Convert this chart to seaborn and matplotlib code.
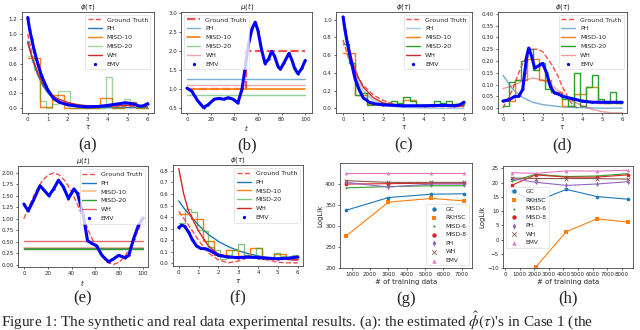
import numpy as np
import matplotlib as mpl
import matplotlib.pyplot as plt
import seaborn as sns

mpl.use('agg')

# ---- (a) phi, case 1 ----
a_tau = [0, 0.25, 0.5, 0.75, 1.0, 1.25, 1.5, 2.0, 2.5, 3.0, 4.0, 5.0, 6.0]
a_gt = [1.0, 0.68, 0.46, 0.32, 0.22, 0.15, 0.11, 0.06, 0.035, 0.02, 0.02, 0.02, 0.02]
a_ph = [0.9, 0.64, 0.45, 0.31, 0.21, 0.14, 0.09, 0.045, 0.025, 0.015, 0.01, 0.01, 0.01]
a_wh = [0.88, 0.66, 0.48, 0.34, 0.24, 0.17, 0.13, 0.08, 0.05, 0.035, 0.03, 0.04, 0.03]
a_m10 = [0.68, 0.02, 0.18, 0.01, 0.01, 0.01, 0.14, 0.01, 0.09, 0.01]
a_m20 = [0.70, 0.51, 0.10, 0.01, 0.06, 0.24, 0.24, 0.01, 0.01, 0.01,
         0.01, 0.01, 0.01, 0.42, 0.01, 0.01, 0.13, 0.07, 0.01, 0.01]
a_emv_t = [0, 0.1, 0.2, 0.3, 0.5, 0.7, 1.0, 1.3, 1.6, 2.0, 2.5, 3.0, 3.5, 4.0, 4.5, 4.9, 5.3, 5.6, 5.8, 6.0]
a_emv = [1.22, 1.05, 0.93, 0.80, 0.60, 0.43, 0.25, 0.13, 0.08, 0.05, 0.03, 0.02, 0.025, 0.04, 0.06,
         0.075, 0.06, 0.03, 0.035, 0.065]

# ---- (b) mu, case 1 ----
b_t_gt = [0, 50, 50, 100]
b_gt = [1.0, 1.0, 2.0, 2.0]
b_ph = 1.27
b_m10 = 1.0
b_m20 = 0.84
b_wh = 1.12
b_emv_t = [0, 4, 9, 14, 18, 23, 27, 31, 35, 39, 43, 46.5, 49, 52, 55, 57.7, 60, 63, 66, 69, 71.6, 74,
           77, 79, 82, 86.3, 89, 91, 93.9, 97, 100]
b_emv = [1.03, 0.95, 0.7, 0.52, 0.6, 0.74, 0.76, 0.74, 0.78, 0.74, 0.64, 1.0, 1.53, 2.19, 2.6, 2.77,
         2.55, 2.05, 1.68, 1.8, 2.0, 1.88, 1.6, 1.53, 1.7, 1.95, 1.75, 1.55, 1.41, 1.55, 1.76]

# ---- (c) phi, case 2 ----
c_tau = [0, 0.25, 0.5, 0.75, 1.0, 1.5, 2.0, 2.5, 3.0, 4.0, 5.0, 6.0]
c_gt = [0.77, 0.58, 0.45, 0.34, 0.26, 0.15, 0.09, 0.05, 0.03, 0.02, 0.02, 0.02]
c_ph = [0.95, 0.65, 0.45, 0.30, 0.20, 0.09, 0.04, 0.02, 0.01, 0.005, 0.0, 0.0]
c_wh = [1.02, 0.72, 0.50, 0.35, 0.24, 0.12, 0.06, 0.04, 0.03, 0.03, 0.03, 0.03]
c_m10 = [0.62, 0.15, 0.05, 0.06, 0.05, 0.09, 0.04, 0.04, 0.05, 0.04]
c_m20 = [0.72, 0.51, 0.15, 0.17, 0.04, 0.05, 0.06, 0.05, 0.08, 0.06,
         0.13, 0.08, 0.04, 0.04, 0.03, 0.08, 0.06, 0.08, 0.05, 0.05]
c_emv_t = [0, 0.1, 0.2, 0.4, 0.6, 0.8, 1.0, 1.3, 1.6, 2.0, 3.0, 4.0, 5.0, 5.5, 5.8, 6.0]
c_emv = [1.03, 0.88, 0.75, 0.53, 0.33, 0.21, 0.12, 0.07, 0.05, 0.04, 0.03, 0.03, 0.035, 0.03, 0.04, 0.07]

# ---- (d) phi, case 3 ----
d_tau_gt = [0, 0.25, 0.5, 0.75, 1.0, 1.25, 1.5, 1.75, 2.0, 2.25, 2.5, 2.75, 3.0, 3.25, 3.5, 3.75]
d_gt = [0.0, 0.04, 0.08, 0.14, 0.19, 0.23, 0.25, 0.25, 0.24, 0.21, 0.18, 0.14, 0.09, 0.05, 0.015, 0.0]
d_tau = [0, 0.5, 1.0, 1.5, 2.0, 2.5, 3.0, 3.5, 4.0, 4.5, 5.0, 5.5, 6.0]
d_ph = [0.14, 0.08, 0.045, 0.025, 0.015, 0.01, 0.005, 0.003, 0.002, 0.001, 0.0, 0.0, 0.0]
d_wh = [0.083, 0.095, 0.115, 0.128, 0.12, 0.095, 0.06, 0.03, 0.01, -0.005, -0.015, -0.02, -0.02]
d_m10 = [0.03, 0.12, 0.21, 0.12, 0.07, 0.01, 0.06, 0.09, 0.02, 0.02]
d_m20 = [0.01, 0.11, 0.12, 0.20, 0.25, 0.16, 0.19, 0.08, 0.07, 0.06,
         0.04, 0.01, 0.15, 0.01, 0.09, 0.14, 0.04, 0.02, 0.07, 0.02]
d_emv_t = [0, 0.3, 0.6, 0.8, 1.0, 1.1, 1.2, 1.3, 1.45, 1.6, 1.8, 2.0, 2.2, 2.4, 2.6, 2.8, 3.0, 3.5,
           4.0, 4.5, 5.0, 6.0]
d_emv = [0.03, 0.035, 0.05, 0.05, 0.08, 0.15, 0.22, 0.255, 0.22, 0.17, 0.18, 0.19, 0.15, 0.09, 0.065,
         0.06, 0.05, 0.04, 0.03, 0.025, 0.025, 0.025]

# ---- (e) mu, case 2 ----
e_t_gt = [0, 5, 10, 15, 20, 25, 30, 35, 40, 45, 50, 55, 60, 65, 70, 75, 80, 85, 90, 95, 100]
e_gt = [1.0, 1.31, 1.59, 1.81, 1.95, 2.0, 1.95, 1.81, 1.59, 1.31, 1.0, 0.69, 0.41, 0.19, 0.05, 0.0,
        0.05, 0.19, 0.41, 0.69, 1.0]
e_ph = 0.37
e_m10 = 0.365
e_m20 = 0.35
e_wh = 0.52
e_emv_t = [0, 3.6, 8, 13.5, 17, 21, 25, 29, 33, 37.4, 42, 45, 50, 53.4, 57, 61, 65.5, 71, 75, 79.5,
           85, 88, 92, 96, 100]
e_emv = [1.32, 1.17, 1.4, 1.72, 1.62, 1.5, 1.65, 1.84, 1.7, 1.44, 1.65, 1.55, 1.06, 0.52, 0.46, 0.41,
         0.2, 0.06, 0.12, 0.2, 0.15, 0.2, 0.56, 0.85, 1.02]

# ---- (f) phi, case 4 ----
f_tau = [0, 0.25, 0.5, 1.0, 1.5, 2.0, 2.5, 3.0, 3.5, 4.0, 4.5, 5.0, 5.5, 6.0]
f_gt = [0.45, 0.39, 0.33, 0.2, 0.09, 0.03, 0.005, 0.02, 0.05, 0.045, 0.03, 0.01, 0.005, 0.005]
f_ph = [0.54, 0.48, 0.43, 0.33, 0.25, 0.19, 0.145, 0.11, 0.085, 0.065, 0.05, 0.04, 0.035, 0.03]
f_wh = [0.82, 0.6, 0.45, 0.28, 0.15, 0.08, 0.06, 0.055, 0.06, 0.055, 0.045, 0.04, 0.035, 0.03]
f_m10 = [0.43, 0.38, 0.19, 0.07, 0.12, 0.06, 0.13, 0.04, 0.08, 0.04]
f_m20 = [0.35, 0.47, 0.44, 0.29, 0.28, 0.14, 0.12, 0.04, 0.07, 0.12,
         0.17, 0.07, 0.06, 0.13, 0.05, 0.05, 0.09, 0.06, 0.05, 0.07]
f_emv_t = [0, 0.15, 0.3, 0.5, 0.7, 0.9, 1.1, 1.4, 1.7, 2.0, 2.5, 3.0, 3.5, 4.0, 4.5, 5.0, 5.5, 6.0]
f_emv = [0.31, 0.33, 0.32, 0.27, 0.2, 0.15, 0.13, 0.125, 0.1, 0.07, 0.055, 0.05, 0.055, 0.05, 0.045,
         0.04, 0.045, 0.055]

# ---- (g) real data 1 ----
g_n = [700, 3000, 5350, 7120]
g_gc = [338, 368, 376, 377]
g_rkhsc = [277, 357, 366, 360]
g_misd6 = [391, 394, 396, 396]
g_misd8 = [400, 401, 402, 402]
g_ph = [404, 393, 400, 400]
g_wh = [408, 404, 404, 404]
g_emv = [427, 427, 427, 427]

# ---- (h) real data 2 ----
h_n = [450, 2100, 4200, 6300, 8400]
h_gc = [17.0, 13.4, 17.6, 15.1, 14.2]
h_rkhsc = [-25.0, -9.6, 2.8, 7.3, 6.2]
h_misd6 = [20.4, 22.9, 22.1, 22.3, 23.1]
h_misd8 = [19.0, 22.7, 21.9, 21.9, 22.7]
h_ph = [21.4, 20.1, 19.0, 19.5, 20.3]
h_wh = [21.6, 21.4, 21.4, 21.4, 21.2]
h_emv = [23.5, 23.2, 24.1, 24.0, 24.3]

methods_real = ['GC', 'RKHSC', 'MISD-6', 'MISD-8', 'PH', 'WH', 'EMV']
real_colors = ['tab:blue', 'tab:orange', 'tab:green', 'tab:red', 'tab:purple', 'tab:brown', 'tab:pink']
real_markers = ['o', 's', '.', 'o', 'd', 'x', '^']

steps10 = [0, 0.6, 1.2, 1.8, 2.4, 3.0, 3.6, 4.2, 4.8, 5.4, 6.0]
steps20 = [0, 0.3, 0.6, 0.9, 1.2, 1.5, 1.8, 2.1, 2.4, 2.7, 3.0, 3.3, 3.6, 3.9, 4.2, 4.5, 4.8, 5.1, 5.4, 5.7, 6.0]

sns.set_theme(style="ticks")
plt.rc('font', size=4)
plt.rc('axes', linewidth=0.6, edgecolor='#444444', titlesize=5, labelsize=5, titlepad=1.0)
plt.rc('xtick', labelsize=4, direction='out')
plt.rc('ytick', labelsize=4, direction='out')
plt.rc('xtick.major', size=1.5, width=0.5, pad=1.5)
plt.rc('ytick.major', size=1.5, width=0.5, pad=1.5)
plt.rc('legend', fontsize=4.5)
plt.rc('mathtext', fontset='dejavusans')

fig = plt.figure(figsize=(6.4, 3.3), dpi=100)

boxes = {
    'a': [0.034, 0.658, 0.206, 0.307],
    'b': [0.283, 0.658, 0.205, 0.307],
    'c': [0.525, 0.658, 0.2125, 0.307],
    'd': [0.778, 0.658, 0.2016, 0.307],
    'e': [0.028, 0.190, 0.203, 0.307],
    'f': [0.270, 0.193, 0.203, 0.307],
    'g': [0.531, 0.187, 0.206, 0.319],
    'h': [0.786, 0.187, 0.203, 0.310],
}
axes = {k: fig.add_axes(v) for k, v in boxes.items()}


def steps(ax, edges, vals, color, alpha, label):
    sns.lineplot(x=edges, y=list(vals) + [vals[-1]], ax=ax, drawstyle='steps-post',
                 color=color, alpha=alpha, lw=1.0, label=label, sort=False, estimator=None)


def emv(ax, t, v):
    sns.lineplot(x=t, y=v, ax=ax, color='blue', lw=2.2, legend=False)
    sns.scatterplot(x=t, y=v, ax=ax, color='blue', marker='.', s=10, linewidth=0, label='EMV')


def finish(ax, title, xlabel, loc='upper right'):
    ax.set_title(title)
    ax.set_xlabel(xlabel, labelpad=1)
    ax.set_ylabel('')
    h, l = ax.get_legend_handles_labels()
    leg = ax.legend(h, l, loc=loc, frameon=True, borderpad=0.4, labelspacing=0.55,
                    handlelength=2.2, markerscale=1.5)
    leg.get_frame().set_linewidth(0.4)


def phi_panel(ax, tau_gt, gt, tau, ph, wh, m10, m20, et, ev, alphas):
    sns.lineplot(x=tau_gt, y=gt, ax=ax, color='red', ls='--', lw=1.0, alpha=0.7, label='Ground Truth')
    sns.lineplot(x=tau, y=ph, ax=ax, color='tab:blue', lw=1.0, alpha=alphas[0], label='PH')
    steps(ax, steps10, m10, 'tab:orange', alphas[1], 'MISD-10')
    steps(ax, steps20, m20, 'tab:green', alphas[2], 'MISD-20')
    sns.lineplot(x=tau, y=wh, ax=ax, color='tab:red', lw=1.0, alpha=alphas[3], label='WH')
    emv(ax, et, ev)
    finish(ax, r'$\phi(\tau)$', r'$\tau$')


def mu_panel(ax, tg, gt, ph, m10, m20, wh, et, ev, alphas, gt_lw):
    sns.lineplot(x=tg, y=gt, ax=ax, color='red', ls='--', lw=gt_lw, alpha=0.7, label='Ground Truth',
                 sort=False, estimator=None)
    xs = [0, 100]
    sns.lineplot(x=xs, y=[ph, ph], ax=ax, color='tab:blue', lw=1.0, alpha=alphas[0], label='PH')
    sns.lineplot(x=xs, y=[m10, m10], ax=ax, color='tab:orange', lw=1.2, alpha=alphas[1], label='MISD-10')
    sns.lineplot(x=xs, y=[m20, m20], ax=ax, color='tab:green', lw=1.0, alpha=alphas[2], label='MISD-20')
    sns.lineplot(x=xs, y=[wh, wh], ax=ax, color='tab:red', lw=1.0, alpha=alphas[3], label='WH')
    emv(ax, et, ev)
    finish(ax, r'$\mu(t)$', r'$t$', loc='upper left' if gt_lw > 1.2 else 'upper right')


phi_panel(axes['a'], a_tau, a_gt, a_tau, a_ph, a_wh, a_m10, a_m20, a_emv_t, a_emv, [1, 1, 0.45, 1])
axes['a'].set_xlim(-0.3, 6.3)
axes['a'].set_ylim(-0.06, 1.30)
axes['a'].set_yticks([0.0, 0.2, 0.4, 0.6, 0.8, 1.0, 1.2])

mu_panel(axes['b'], b_t_gt, b_gt, b_ph, b_m10, b_m20, b_wh, b_emv_t, b_emv, [0.6, 1, 0.5, 0.4], 1.6)
axes['b'].set_xlim(-5, 106)
axes['b'].set_ylim(0.38, 3.05)

phi_panel(axes['c'], c_tau, c_gt, c_tau, c_ph, c_wh, c_m10, c_m20, c_emv_t, c_emv, [0.4, 1, 1, 1])
axes['c'].set_xlim(-0.35, 6.4)
axes['c'].set_ylim(-0.05, 1.09)

phi_panel(axes['d'], d_tau_gt, d_gt, d_tau, d_ph, d_wh, d_m10, d_m20, d_emv_t, d_emv, [0.6, 1, 1, 0.45])
axes['d'].set_xlim(-0.25, 6.25)
axes['d'].set_ylim(-0.02, 0.41)
axes['d'].set_yticks([0.0, 0.05, 0.1, 0.15, 0.2, 0.25, 0.3, 0.35, 0.4])

mu_panel(axes['e'], e_t_gt, e_gt, e_ph, e_m10, e_m20, e_wh, e_emv_t, e_emv, [1, 0.5, 1, 0.7], 1.0)
axes['e'].set_xlim(-5, 104)
axes['e'].set_ylim(-0.06, 2.15)

phi_panel(axes['f'], f_tau, f_gt, f_tau, f_ph, f_wh, f_m10, f_m20, f_emv_t, f_emv, [1, 1, 0.6, 1])
axes['f'].set_xlim(-0.3, 6.26)
axes['f'].set_ylim(-0.025, 0.85)

for key, n, series, loc in [('g', g_n, [g_gc, g_rkhsc, g_misd6, g_misd8, g_ph, g_wh, g_emv], 'lower right'),
                            ('h', h_n, [h_gc, h_rkhsc, h_misd6, h_misd8, h_ph, h_wh, h_emv], 'center left')]:
    ax = axes[key]
    for name, vals, col, mk in zip(methods_real, series, real_colors, real_markers):
        sns.lineplot(x=n, y=vals, ax=ax, color=col, lw=0.8, legend=False)
        sns.scatterplot(x=n, y=vals, ax=ax, color=col, marker=mk, s=7, linewidth=0.6 if mk == 'x' else 0,
                        label=name)
    ax.set_xlabel('# of training data', labelpad=1)
    ax.set_ylabel('LogLik', labelpad=1)
    leg = ax.legend(loc=loc, frameon=True, borderpad=0.4, labelspacing=0.6, markerscale=1.2,
                    handletextpad=1.0, fontsize=4.2)
    leg.get_frame().set_linewidth(0.4)

axes['g'].set_xlim(344, 7546)
axes['g'].set_ylim(200, 450)
axes['g'].set_xticks([1000, 2000, 3000, 4000, 5000, 6000, 7000])
axes['g'].set_yticks([200, 250, 300, 350, 400])
axes['h'].set_xlim(-137, 8770)
axes['h'].set_ylim(-10, 25.8)
axes['h'].set_xticks([0, 1000, 2000, 3000, 4000, 5000, 6000, 7000, 8000])
axes['h'].set_yticks([-10, -5, 0, 5, 10, 15, 20, 25])

# sub-figure labels and caption
for k, b in boxes.items():
    y = 0.56 if b[1] > 0.5 else 0.095
    fig.text(b[0] + b[2] / 2, y, '({})'.format(k), ha='center', va='center',
             family='Liberation Serif', fontsize=12)

fig.text(0.002, 0.012, "Figure 1: The synthetic and real data experimental results. (a): the estimated "
         r"$\hat{\phi}(\tau)$'s in Case 1 (the", ha='left', va='baseline', family='Liberation Serif',
         fontsize=11.0, math_fontfamily='stix')

fig.savefig('out.png', dpi=100)
